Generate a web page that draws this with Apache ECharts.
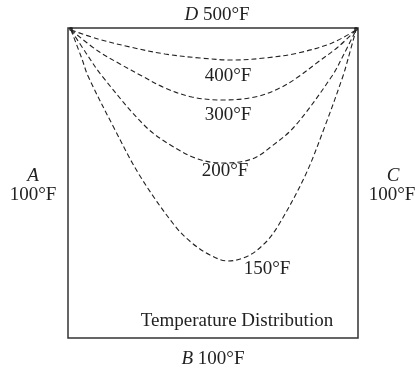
<!DOCTYPE html>
<html>
<head>
<meta charset="utf-8">
<style>
  html, body { margin: 0; padding: 0; background: #fff; }
  #chart { width: 415px; height: 371px; }
</style>
<script src="https://cdn.jsdelivr.net/npm/echarts@6/dist/echarts.min.js"></script>
</head>
<body>
<div id="chart"></div>
<script>
// plate is 290 x 310 units, origin at bottom-left, top edge D at y = 310
const curve400 = [[3,308],[30,299],[62,291],[97,284],[132,280],[164,278],[197,280],[230,285],[264,295],[288,308]];
const curve300 = [[3,308],[30,287],[52,274],[74,262],[97,250],[124,241],[154,238],[187,241],[212,250],[230,261],[250,276],[270,291],[288,308]];
const curve200 = [[3,308],[18,285],[34,262],[77,212],[104,192],[130,179],[154,175],[184,179],[204,192],[227,212],[264,262],[276,284],[288,308]];
const curve150 = [[3,308],[14,279],[20,262],[45,212],[72,162],[107,112],[124,95],[142,83],[160,77],[180,82],[197,95],[210,112],[237,162],[257,212],[275,262],[280,279],[288,308]];
const cornerPoints = [[3,309],[288,309]];

const curveNames = ["400°F", "300°F", "200°F", "150°F"];
const sideLabels = { top: "500°F", left: "100°F", right: "100°F", bottom: "100°F" };
const title = "Temperature Distribution";

const font = '19px "Liberation Serif", "Times New Roman", serif';
const ink = "#222";
const italic = { i: { fontStyle: "italic", fontFamily: "Liberation Serif", fontSize: 19, fill: ink } };

function txt(x, y, text) {
  return {
    type: "text",
    x: x, y: y,
    style: {
      text: text, font: font, fill: ink,
      align: "center", verticalAlign: "middle",
      rich: italic
    }
  };
}

const chart = echarts.init(document.getElementById("chart"));

function dashed(name, data) {
  return {
    name: name,
    type: "line",
    data: data,
    smooth: 0.35,
    symbol: "none",
    silent: true,
    lineStyle: { color: ink, width: 1.1, type: [5, 3] }
  };
}

chart.setOption({
  animation: false,
  backgroundColor: "#fff",
  grid: {
    left: 68, top: 28, right: 57, bottom: 33,
    show: true,
    borderColor: "#333",
    borderWidth: 1.5
  },
  xAxis: { type: "value", min: 0, max: 290, show: false },
  yAxis: { type: "value", min: 0, max: 310, show: false },
  series: [
    dashed(curveNames[0], curve400),
    dashed(curveNames[1], curve300),
    dashed(curveNames[2], curve200),
    dashed(curveNames[3], curve150),
    {
      type: "scatter",
      data: cornerPoints,
      symbolSize: 4,
      itemStyle: { color: "#111" },
      silent: true
    }
  ],
  graphic: [
    txt(217, 15, "{i|D} " + sideLabels.top),
    txt(33, 176, "{i|A}"),
    txt(33, 195, sideLabels.left),
    txt(393, 176, "{i|C}"),
    txt(392, 195, sideLabels.right),
    txt(213, 359, "{i|B} " + sideLabels.bottom),
    txt(228, 76, curveNames[0]),
    txt(228, 115, curveNames[1]),
    txt(225, 171, curveNames[2]),
    txt(267, 269, curveNames[3]),
    txt(237, 321, title)
  ]
});
</script>
</body>
</html>
